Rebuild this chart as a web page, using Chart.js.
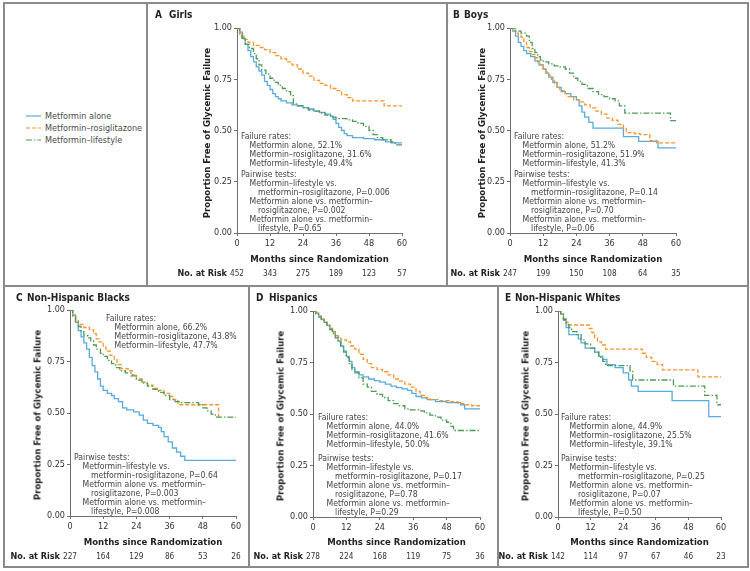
<!DOCTYPE html>
<html>
<head>
<meta charset="utf-8">
<script src="https://cdn.jsdelivr.net/npm/chart.js@4.4.1/dist/chart.umd.min.js"></script>
<style>
  html, body { margin:0; padding:0; background:#fff; }
  #fig { position:relative; width:750px; height:571px; overflow:hidden; background:#fff;
         font-family:"Liberation Sans Narrow","DejaVu Sans Condensed","Roboto Condensed",sans-serif; color:#333; }
  .ln { position:absolute; background:#8a8a8a; }
  canvas { position:absolute; }
  .t { position:absolute; white-space:nowrap; font-size:8.6px; line-height:9px; color:#444; }
  .ttl { position:absolute; white-space:nowrap; font-weight:bold; font-size:10px; color:#222; }
  .ax { position:absolute; white-space:nowrap; font-weight:bold; font-size:9.5px; color:#222; transform:translate(-50%,-50%); }
  .axy { position:absolute; white-space:nowrap; font-weight:bold; font-size:9.5px; color:#222; transform:translate(-50%,-50%) rotate(-90deg); }
  .leg { position:absolute; white-space:nowrap; font-size:9px; color:#4a4a4a; line-height:10px; }
</style>
</head>
<body>
<div id="fig"></div>
<script>
// ---------------- DATA ----------------
const monthTicks = [0, 12, 24, 36, 48, 60];
const seriesNames = ['Metformin alone', 'Metformin\u2013rosiglitazone', 'Metformin\u2013lifestyle'];

// Panel A: Girls
const girlsAlone = [[0,1],[1,0.98],[2,0.95],[3,0.92],[4,0.89],[5,0.86],[6,0.835],[7,0.81],[8,0.79],[9,0.77],[10,0.74],[11,0.72],[12,0.70],[13,0.68],[14,0.665],[15,0.655],[16,0.645],[18,0.635],[20,0.625],[22,0.62],[24,0.612],[26,0.605],[28,0.595],[30,0.588],[32,0.58],[34,0.57],[35,0.555],[36,0.535],[37,0.515],[38,0.50],[39,0.485],[40,0.475],[42,0.465],[46,0.46],[50,0.455],[54,0.445],[56,0.44],[60,0.44]];
const girlsRosi = [[0,1],[0.8,0.98],[1.5,0.96],[2.5,0.945],[4,0.93],[6,0.915],[8,0.905],[10,0.895],[12,0.88],[14,0.865],[16,0.85],[18,0.835],[20,0.82],[22,0.80],[24,0.78],[26,0.765],[28,0.745],[30,0.73],[32,0.72],[34,0.705],[36,0.695],[38,0.675],[40,0.66],[42,0.645],[53.5,0.62],[60,0.62]];
const girlsLife = [[0,1],[1,0.97],[1.8,0.95],[3,0.92],[4.5,0.90],[6,0.875],[7,0.85],[8,0.82],[9,0.795],[10.5,0.775],[12,0.755],[13.5,0.735],[15,0.72],[16.5,0.705],[18,0.69],[19.5,0.67],[20.5,0.63],[22,0.62],[24,0.61],[26,0.60],[28,0.595],[30,0.585],[32,0.575],[34,0.565],[36,0.558],[40,0.552],[42,0.545],[44,0.535],[46,0.52],[48,0.50],[49.5,0.48],[51,0.465],[53,0.455],[56,0.445],[57.5,0.43],[60,0.43]];
const girlsRisk = [452, 343, 275, 189, 123, 57];

// Panel B: Boys
const boysAlone = [[0,1],[1,0.985],[2,0.96],[3,0.93],[4,0.91],[5,0.89],[6,0.875],[7.5,0.86],[9,0.84],[10.5,0.82],[12,0.80],[13,0.78],[14,0.76],[15.5,0.735],[17,0.71],[18.5,0.69],[20,0.68],[22,0.665],[24,0.65],[25,0.62],[26,0.59],[27,0.565],[28.5,0.54],[30,0.512],[41,0.47],[46.5,0.447],[53.5,0.415],[60,0.415]];
const boysRosi = [[0,1],[1,0.99],[2,0.975],[3,0.965],[4,0.955],[5,0.93],[6,0.905],[7,0.885],[8,0.87],[9,0.855],[10,0.835],[11,0.82],[12,0.80],[13,0.785],[14,0.77],[15,0.75],[16,0.73],[17,0.71],[18,0.695],[19.5,0.68],[21,0.665],[23,0.65],[25,0.64],[27,0.625],[29,0.61],[31,0.595],[33,0.58],[35,0.56],[37,0.55],[39,0.53],[41,0.51],[42,0.49],[45,0.485],[47,0.48],[50.5,0.45],[53,0.44],[60,0.44]];
const boysLife = [[0,1],[2,0.985],[4,0.975],[6,0.96],[7,0.93],[8,0.90],[9,0.88],[10,0.86],[11,0.845],[12,0.835],[14,0.825],[16,0.815],[18,0.81],[20,0.80],[21.5,0.78],[23,0.755],[24.5,0.74],[26,0.725],[28,0.705],[30,0.69],[32,0.675],[34,0.665],[36,0.655],[38,0.645],[39.5,0.62],[41.5,0.585],[57.5,0.585],[58,0.548],[60,0.548]];
const boysRisk = [247, 199, 150, 108, 64, 35];

// Panel C: Non-Hispanic Blacks
const blacksAlone = [[0,1],[1,0.975],[2,0.94],[3,0.90],[4,0.87],[5,0.84],[6,0.81],[7,0.77],[8,0.73],[9,0.70],[10,0.665],[11,0.63],[12,0.61],[13.5,0.595],[15,0.585],[16,0.57],[17.5,0.555],[19,0.525],[20.5,0.515],[23,0.505],[25,0.49],[26.5,0.465],[28,0.45],[30,0.44],[32,0.43],[33,0.41],[34,0.385],[35.5,0.36],[37,0.33],[38.5,0.31],[40,0.29],[41.5,0.27],[60,0.27]];
const blacksRosi = [[0,1],[1,0.975],[2,0.95],[3,0.93],[5,0.915],[7,0.905],[8.5,0.885],[9.5,0.86],[10.5,0.845],[12,0.82],[13,0.80],[14.5,0.78],[16,0.76],[17,0.735],[18.5,0.715],[21,0.705],[22.5,0.685],[24,0.665],[26,0.65],[28,0.635],[30,0.62],[32,0.61],[34,0.595],[36,0.58],[37.5,0.565],[39,0.54],[53.7,0.485],[54,0.485]];
const blacksLife = [[0,1],[1,0.97],[2,0.945],[3,0.92],[4,0.895],[5,0.875],[6.5,0.865],[7.5,0.85],[8.5,0.83],[9.5,0.81],[11,0.79],[12,0.775],[13.5,0.755],[15,0.74],[16.5,0.72],[18,0.705],[20,0.695],[22,0.68],[24,0.66],[26,0.645],[28,0.63],[30,0.615],[32,0.60],[34,0.585],[36,0.565],[38,0.555],[40,0.55],[46.5,0.54],[48,0.525],[49.5,0.51],[51,0.495],[52.5,0.48],[60,0.48]];
const blacksRisk = [227, 164, 129, 86, 53, 26];

// Panel D: Hispanics
const hispAlone = [[0,1],[1,0.99],[2,0.975],[3,0.96],[4,0.945],[5,0.93],[6,0.915],[7,0.90],[8,0.88],[9,0.855],[10,0.83],[11,0.805],[12,0.78],[13,0.755],[14,0.725],[15,0.705],[16.5,0.69],[18,0.68],[20,0.67],[22,0.662],[24,0.655],[26,0.645],[28,0.635],[30,0.628],[32,0.622],[34,0.615],[35.5,0.60],[37,0.585],[39,0.578],[41,0.57],[44,0.56],[48,0.555],[53,0.545],[54.5,0.525],[60,0.525]];
const hispRosi = [[0,1],[1,0.99],[2,0.975],[3,0.96],[4,0.945],[5,0.93],[6,0.915],[7,0.895],[8,0.88],[9,0.87],[10,0.86],[12,0.85],[13.5,0.83],[15,0.815],[16.5,0.79],[18,0.765],[19.5,0.745],[21,0.725],[23,0.715],[25,0.705],[27,0.69],[29,0.67],[31,0.66],[33,0.645],[35,0.63],[37,0.61],[38.5,0.59],[40,0.58],[42,0.57],[45,0.565],[49,0.56],[52,0.55],[55,0.545],[57,0.54],[60,0.535]];
const hispLife = [[0,1],[1,0.985],[2,0.97],[3,0.955],[4,0.945],[5,0.93],[6,0.91],[7,0.89],[8,0.87],[9,0.85],[10,0.825],[11,0.80],[12,0.775],[13,0.745],[14,0.715],[15,0.70],[16.5,0.675],[18,0.645],[19.5,0.63],[21,0.61],[23,0.595],[25,0.58],[27,0.565],[29,0.55],[31,0.54],[33,0.525],[35,0.52],[38,0.515],[40,0.505],[42,0.495],[44,0.485],[46,0.47],[48,0.46],[49.5,0.44],[50.5,0.42],[60,0.42]];
const hispRisk = [278, 224, 168, 119, 75, 36];

// Panel E: Non-Hispanic Whites
const whitesAlone = [[0,1],[1,0.985],[2,0.955],[3,0.92],[4,0.885],[7.5,0.865],[8.5,0.845],[10,0.82],[13.5,0.80],[15,0.78],[16.5,0.765],[18,0.74],[21,0.725],[24,0.70],[26,0.665],[27,0.635],[29.5,0.61],[42,0.565],[55.5,0.487],[60,0.487]];
const whitesRosi = [[0,1],[1,0.985],[2,0.96],[3,0.945],[4,0.932],[11.5,0.915],[12.5,0.895],[13.5,0.87],[14.5,0.85],[16,0.835],[17.5,0.815],[31,0.795],[32.5,0.775],[34.5,0.755],[36.5,0.74],[38.5,0.714],[51.5,0.68],[60,0.68]];
const whitesLife = [[0,1],[1,0.985],[2,0.96],[3,0.935],[4,0.92],[5,0.90],[7,0.885],[8.5,0.86],[10,0.84],[12,0.82],[13.5,0.80],[15,0.775],[16.5,0.755],[17.5,0.735],[26.5,0.71],[27.5,0.665],[42.5,0.635],[54,0.59],[58.5,0.545],[60,0.545]];
const whitesRisk = [142, 114, 97, 67, 46, 23];

// Text blocks
const ratesGirls = ['Metformin alone, 52.1%', 'Metformin\u2013rosiglitazone, 31.6%', 'Metformin\u2013lifestyle, 49.4%'];
const pGirls = ['0.006', '0.002', '0.65'];
const ratesBoys = ['Metformin alone, 51.2%', 'Metformin\u2013rosiglitazone, 51.9%', 'Metformin\u2013lifestyle, 41.3%'];
const pBoys = ['0.14', '0.70', '0.06'];
const ratesBlacks = ['Metformin alone, 66.2%', 'Metformin\u2013rosiglitazone, 43.8%', 'Metformin\u2013lifestyle, 47.7%'];
const pBlacks = ['0.64', '0.003', '0.008'];
const ratesHisp = ['Metformin alone, 44.0%', 'Metformin\u2013rosiglitazone, 41.6%', 'Metformin\u2013lifestyle, 50.0%'];
const pHisp = ['0.17', '0.78', '0.29'];
const ratesWhites = ['Metformin alone, 44.9%', 'Metformin\u2013rosiglitazone, 25.5%', 'Metformin\u2013lifestyle, 39.1%'];
const pWhites = ['0.25', '0.07', '0.50'];

// ---------------- STYLE / LAYOUT ----------------
const FONT = '"Liberation Sans Narrow","DejaVu Sans Condensed","Roboto Condensed",sans-serif';
const COLORS = ['#58aadf', '#f5952a', '#4e9a55'];
const DASHES = [[], [4, 2], [6, 2, 1.5, 2]];
const YW = 30, XH = 16;

const panels = [
  { letter:'A', name:'Girls', box:[147,3,300,282], area:[237,28,402,233], series:[girlsAlone,girlsRosi,girlsLife], risk:girlsRisk,
    rates:ratesGirls, p:pGirls, fail:[241,136], pair:[241,174], riskY:274, yTitleX:206, xTitleY:258, titleXY:[155,9], gap:14 },
  { letter:'B', name:'Boys', box:[447,3,301,282], area:[510,28,676,233], series:[boysAlone,boysRosi,boysLife], risk:boysRisk,
    rates:ratesBoys, p:pBoys, fail:[514,136], pair:[514,174], riskY:274, yTitleX:481, xTitleY:258, titleXY:[453,9], gap:11 },
  { letter:'C', name:'Non-Hispanic Blacks', box:[4,286,245,282], area:[70,310,236,516], series:[blacksAlone,blacksRosi,blacksLife], risk:blacksRisk,
    rates:ratesBlacks, p:pBlacks, fail:[106,318.5], pair:[74,457], riskY:556.5, yTitleX:37, xTitleY:541, titleXY:[16,292], gap:11 },
  { letter:'D', name:'Hispanics', box:[249,286,249,282], area:[313,311,480,517], series:[hispAlone,hispRosi,hispLife], risk:hispRisk,
    rates:ratesHisp, p:pHisp, fail:[318,417.5], pair:[318,458.5], riskY:556.5, yTitleX:280, xTitleY:541, titleXY:[256,292], gap:13 },
  { letter:'E', name:'Non-Hispanic Whites', box:[498,286,250,282], area:[558,311,721,517], series:[whitesAlone,whitesRosi,whitesLife], risk:whitesRisk,
    rates:ratesWhites, p:pWhites, fail:[561,417.5], pair:[561,458.5], riskY:556.5, yTitleX:525, xTitleY:541, titleXY:[505,292], gap:10 }
];

const fig = document.getElementById('fig');
function el(cls, html, css) {
  const d = document.createElement('div');
  d.className = cls; d.innerHTML = html;
  Object.assign(d.style, css);
  fig.appendChild(d); return d;
}
// frame lines
[[3,2,746,2],[3,566,746,2],[3,2,2,566],[747,2,2,566],[3,285,746,2],[146,2,2,284],[446,2,2,284],[248,285,2,283],[497,285,2,283]]
  .forEach(r => el('ln','',{left:r[0]+'px',top:r[1]+'px',width:r[2]+'px',height:r[3]+'px'}));

// legend
seriesNames.forEach((n,i) => {
  const y = 116 + i*12;
  const c = document.createElement('canvas');
  c.width = 16; c.height = 4; c.style.left = '26px'; c.style.top = (y-2)+'px';
  fig.appendChild(c);
  const g = c.getContext('2d');
  g.strokeStyle = COLORS[i]; g.lineWidth = 1.2; g.setLineDash(DASHES[i]);
  g.beginPath(); g.moveTo(0,2); g.lineTo(15,2); g.stroke();
  el('leg', n, {left:'45px', top:(y-5)+'px'});
});

Chart.defaults.font.family = FONT;
const LH = 9;

panels.forEach(P => {
  const [bx,by,bw,bh] = P.box;
  const [al,at,ar,ab] = P.area;
  const cv = document.createElement('canvas');
  cv.width = bw; cv.height = bh;
  cv.style.left = bx+'px'; cv.style.top = by+'px';
  cv.style.width = bw+'px'; cv.style.height = bh+'px';
  fig.appendChild(cv);

  const riskPlugin = {
    id:'risk'+P.letter,
    afterDraw(chart) {
      const ctx = chart.ctx, xs = chart.scales.x;
      ctx.save();
      ctx.fillStyle = '#333';
      ctx.textBaseline = 'middle';
      ctx.textAlign = 'center';
      ctx.font = '8.2px ' + FONT;
      P.risk.forEach((n,i) => ctx.fillText(String(n), xs.getPixelForValue(monthTicks[i]), P.riskY - by));
      ctx.textAlign = 'right';
      ctx.fillStyle = '#222';
      ctx.font = 'bold 9px ' + FONT;
      ctx.fillText('No. at Risk', xs.getPixelForValue(0) - 10, P.riskY - by);
      ctx.restore();
    }
  };

  new Chart(cv, {
    type:'line',
    data:{ datasets: P.series.map((s,i) => ({
      label: seriesNames[i],
      data: s.map(p => ({x:p[0], y:p[1]})),
      borderColor: COLORS[i], borderWidth: 1.3, borderDash: DASHES[i],
      stepped: true, pointRadius: 0, fill: false
    })).reverse() },
    options:{
      responsive:false, animation:false, devicePixelRatio:1,
      layout:{ padding:{ left: al-bx-YW, top: at-by, right: bx+bw-ar, bottom: by+bh-ab-XH } },
      plugins:{ legend:{display:false}, tooltip:{enabled:false} },
      scales:{
        x:{ type:'linear', min:0, max:60,
            ticks:{ stepSize:12, font:{size:9}, color:'#333', padding:2, maxRotation:0 },
            grid:{ drawOnChartArea:false, drawTicks:true, tickLength:3, color:'#6e6e6e' },
            border:{ color:'#6e6e6e', width:1 },
            afterFit(s){ s.height = XH; } },
        y:{ type:'linear', min:0, max:1,
            ticks:{ stepSize:0.25, font:{size:9}, color:'#333', padding:2, callback:v => Number(v).toFixed(2) },
            grid:{ drawOnChartArea:false, drawTicks:true, tickLength:3, color:'#6e6e6e' },
            border:{ color:'#6e6e6e', width:1 },
            afterFit(s){ s.width = YW; } }
      }
    },
    plugins:[riskPlugin]
  });

  // titles
  el('ttl', P.letter, {left:P.titleXY[0]+'px', top:P.titleXY[1]+'px'});
  el('ttl', P.name, {left:(P.titleXY[0]+P.gap)+'px', top:P.titleXY[1]+'px'});
  el('axy', 'Proportion Free of Glycemic Failure', {left:P.yTitleX+'px', top:((at+ab)/2+2)+'px'});
  el('ax', 'Months since Randomization', {left:((al+ar)/2)+'px', top:P.xTitleY+'px'});

  // failure rates block
  const fl = [[0,'Failure rates:']].concat(P.rates.map(r => [1,r]));
  fl.forEach((l,i) => el('t', l[1], {left:(P.fail[0]+l[0]*8.5)+'px', top:(P.fail[1]+i*LH-4.5)+'px'}));
  const pl = [[0,'Pairwise tests:'],[1,'Metformin\u2013lifestyle vs.'],[2,'metformin\u2013rosiglitazone, P='+P.p[0]],
              [1,'Metformin alone vs. metformin\u2013'],[2,'rosiglitazone, P='+P.p[1]],
              [1,'Metformin alone vs. metformin\u2013'],[2,'lifestyle, P='+P.p[2]]];
  pl.forEach((l,i) => el('t', l[1], {left:(P.pair[0]+l[0]*8.5)+'px', top:(P.pair[1]+i*LH-4.5)+'px'}));
});
</script>
</body>
</html>
